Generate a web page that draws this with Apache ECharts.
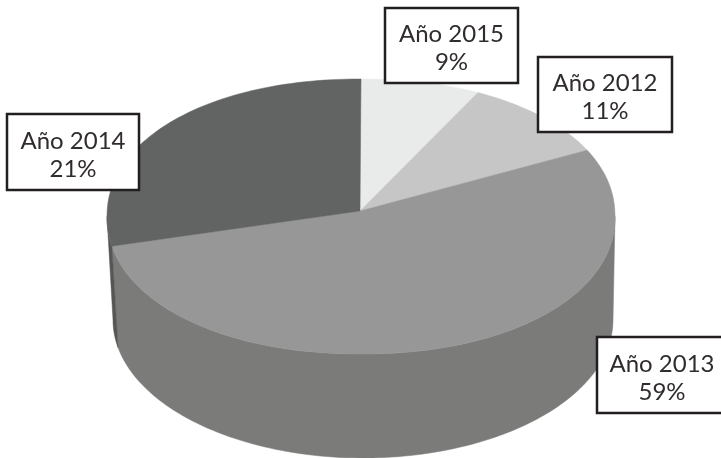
<!DOCTYPE html>
<html>
<head>
<meta charset="utf-8">
<style>html,body{margin:0;padding:0;background:#fff}#c{width:721px;height:458px}</style>
<script src="https://cdn.jsdelivr.net/npm/echarts@6/dist/echarts.min.js"></script>
</head>
<body>
<div id="c"></div>
<script>
// Data: order is clockwise from 12 o'clock
const categories = ['Año 2015', 'Año 2012', 'Año 2013', 'Año 2014'];
const percentLabels = [9, 11, 59, 21];
// Share of the drawn disc, in percent, as measured on the picture
const drawnShares = [7.3, 10, 54.5, 28.2];

// Styles and layout
const topColors = ['#e9ebea', '#c6c6c6', '#979797', '#626463'];
const wallColors = ['#7b7b79', '#7b7b79', '#7b7b79', '#555655'];
const boxes = [[385, 8, 133, 75], [538, 57, 134, 75], [597, 337, 130, 76], [7, 114, 132, 76]];
const topEll = { cx: 361, cy: 216.5, rx: 254, ry: 137.5, p: 2.1 };
const botEll = { cx: 363, cy: 320, rx: 250, ry: 138, p: 2 };
const apex = [360, 211];
const total = drawnShares.reduce((a, b) => a + b, 0);

function pt(e, deg) {
  const t = deg * Math.PI / 180;
  const s = Math.sin(t), c = Math.cos(t), k = 2 / e.p;
  return [e.cx + e.rx * Math.sign(s) * Math.pow(Math.abs(s), k),
          e.cy - e.ry * Math.sign(c) * Math.pow(Math.abs(c), k)];
}
function arc(e, a, b) {
  const n = Math.max(2, Math.ceil(Math.abs(b - a) / 1.5));
  const out = [];
  for (let i = 0; i <= n; i++) out.push(pt(e, a + (b - a) * i / n));
  return out;
}
function range(i) {
  let s = 0;
  for (let k = 0; k < i; k++) s += drawnShares[k];
  return [s / total * 360, (s + drawnShares[i]) / total * 360];
}

const chart = echarts.init(document.getElementById('c'), null, { renderer: 'canvas' });
chart.setOption({
  animation: false,
  backgroundColor: '#fff',
  series: [
    {
      type: 'custom',
      coordinateSystem: 'none',
      silent: true,
      data: categories.map((c, i) => ({ name: c, value: [i, drawnShares[i]] })),
      renderItem: function (params, api) {
        const i = api.value(0);
        const [a, b] = range(i);
        const children = [];
        const wa = Math.max(a, 90), wb = Math.min(b, 270);
        if (wb > wa) {
          children.push({
            type: 'polygon',
            shape: { points: arc(topEll, wa, wb).concat(arc(botEll, wb, wa)) },
            style: { fill: wallColors[i], stroke: wallColors[i], lineWidth: 0.5 }
          });
        }
        children.push({
          type: 'polygon',
          shape: { points: [apex].concat(arc(topEll, a, b)) },
          style: { fill: topColors[i], stroke: topColors[i], lineWidth: 0.5 }
        });
        return { type: 'group', children };
      }
    },
    {
      type: 'custom',
      coordinateSystem: 'none',
      silent: true,
      z: 5,
      data: categories.map((c, i) => ({ name: c, value: [i, percentLabels[i]] })),
      renderItem: function (params, api) {
        const i = api.value(0);
        const [x, y, w, h] = boxes[i];
        return {
          type: 'group',
          children: [
            { type: 'rect', shape: { x, y, width: w, height: h },
              style: { fill: '#fff', stroke: '#231f20', lineWidth: 2.5 } },
            { type: 'text', x: (i === 2 ? 662 : x + w / 2), y: y + h / 2 + 3,
              style: {
                text: categories[i] + '\n' + api.value(1) + '%',
                font: '400 24px Lato',
                lineHeight: 28,
                fill: '#302c2d',
                align: 'center',
                verticalAlign: 'middle'
              } }
          ]
        };
      }
    }
  ]
});
</script>
</body>
</html>
